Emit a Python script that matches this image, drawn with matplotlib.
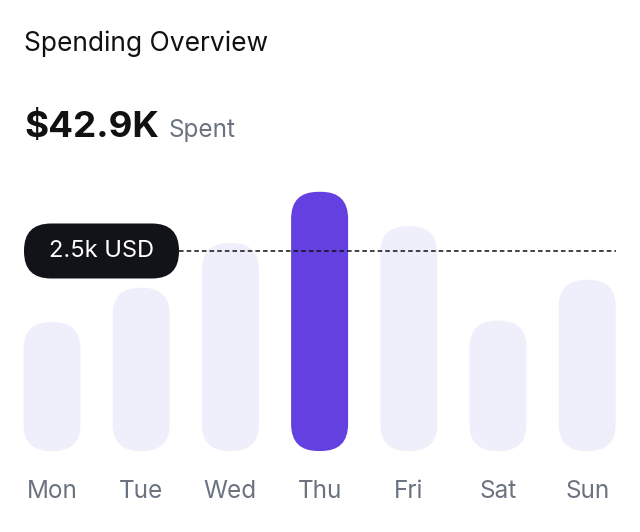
import matplotlib
matplotlib.use("Agg")
import matplotlib.pyplot as plt
from matplotlib.patches import FancyBboxPatch

days = ["Mon", "Tue", "Wed", "Thu", "Fri", "Sat", "Sun"]
values = [1.61, 2.04, 2.60, 3.24, 2.81, 1.63, 2.14]  # thousand USD
ref_value = 2.5
highlight = "Thu"

plt.rcParams['font.family'] = ['Inter', 'DejaVu Sans']
W, H = 640, 532
fig = plt.figure(figsize=(6.4, 5.32), dpi=100)
fig.patch.set_facecolor("white")
ax = fig.add_axes([0, (H - 451) / H, 1, 300 / H])
ax.set_xlim(0, W)
ax.set_ylim(0, 3.75)
ax.axis("off")
vpp = 3.75 / 300  # value per pixel

bw = 57
for i, (d, v) in enumerate(zip(days, values)):
    cx = 52 + 89.2 * i
    col = "#6440e0" if d == highlight else "#efeffb"
    ax.add_patch(FancyBboxPatch((cx - bw / 2, 0), bw, v,
                                boxstyle="round,pad=0,rounding_size=27",
                                mutation_aspect=vpp, fc=col, ec="none", zorder=2))
    fig.text(cx / W, 1 - 491 / H, d, ha="center", va="center",
             fontsize=17.5, color="#6b7280")

ax.plot([179, 616], [ref_value, ref_value], ls=(0, (3, 2)), color="#111111", lw=1.1, zorder=3)
ax.add_patch(FancyBboxPatch((24, ref_value - 27.5 * vpp), 155, 55 * vpp,
                            boxstyle="round,pad=0,rounding_size=27",
                            mutation_aspect=vpp, fc="#111318", ec="none", zorder=4))
ax.text(101.5, ref_value, "2.5k USD", ha="center", va="center", color="white",
        fontsize=17, zorder=5)

fig.text(24 / W, 1 - 44 / H, "Spending Overview", ha="left", va="center",
         fontsize=19, color="#111111")
fig.text(24 / W, 1 - 128 / H, "$42.9K", ha="left", va="center",
         fontsize=26.5, fontweight="bold", color="#111111")
fig.text(169 / W, 1 - 131 / H, "Spent", ha="left", va="center",
         fontsize=17.5, color="#6b7280")

fig.savefig("out.png", dpi=100, facecolor="white")
